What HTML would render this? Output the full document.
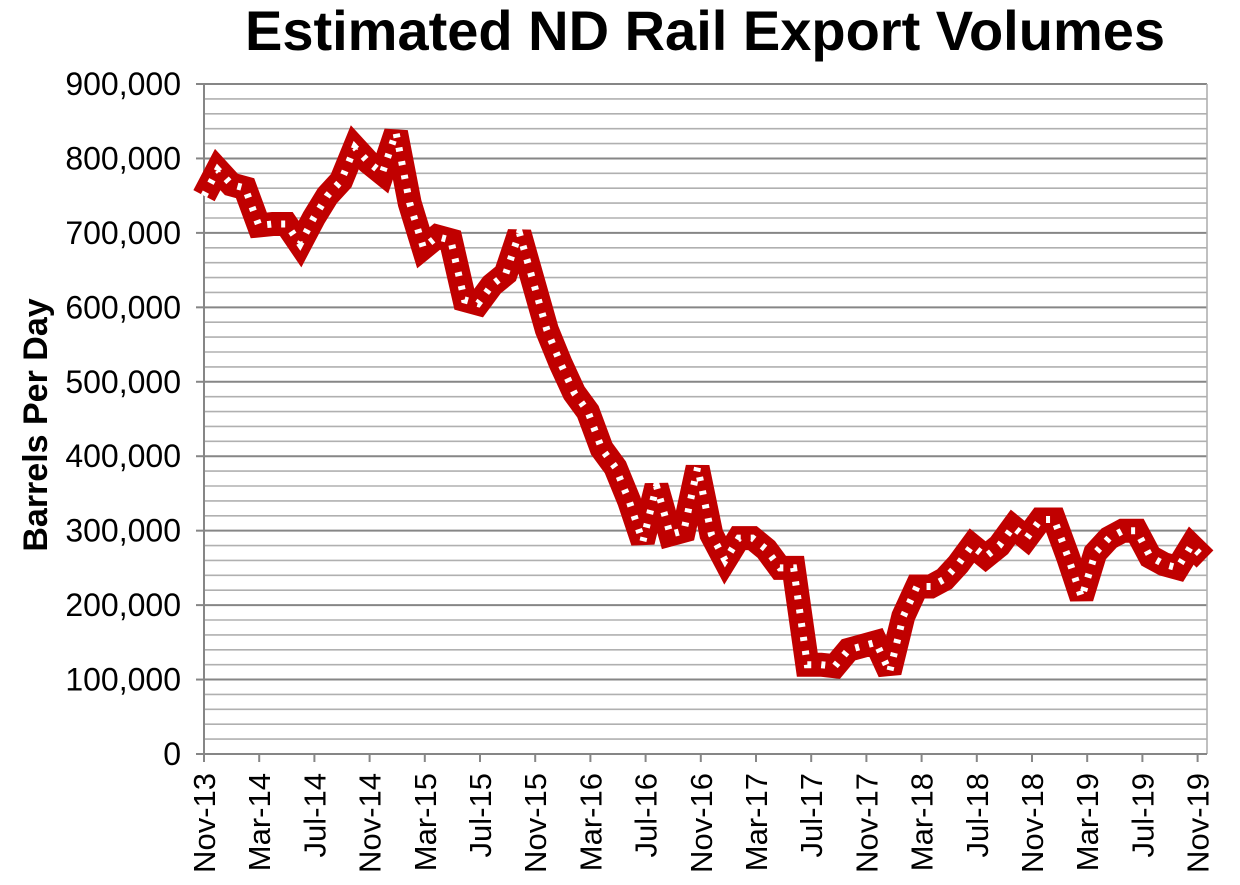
<!DOCTYPE html>
<html><head><meta charset="utf-8"><style>
html,body{margin:0;padding:0;background:#fff;}
svg{display:block;font-family:"Liberation Sans",Arial,sans-serif;}
</style></head><body>
<svg id="s" width="1240" height="885" viewBox="0 0 1240 885" xmlns="http://www.w3.org/2000/svg">
<text x="705" y="50" text-anchor="middle" font-size="56" font-weight="bold">Estimated ND Rail Export Volumes</text>
<text transform="translate(47,425) rotate(-90)" text-anchor="middle" font-size="34" font-weight="bold">Barrels Per Day</text>
<g id="grid"></g>
<g id="lab" font-size="32" text-anchor="end"></g>
<g id="xl" font-size="31" text-anchor="end"></g>
<g id="ser"></g>
</svg>
<script>
var NS="http://www.w3.org/2000/svg";
function el(t,a,p,txt){var e=document.createElementNS(NS,t);for(var k in a)e.setAttribute(k,a[k]);if(txt!=null)e.textContent=txt;document.getElementById(p).appendChild(e);return e;}
var L=204,R=1207,T=84,B=754;
function Y(v){return B-v/900000*(B-T);}
for(var i=1;i<=45;i++){var v=i*20000,y=Y(v),maj=(i%5==0);
 el("line",{x1:L,x2:R,y1:y,y2:y,stroke:maj?"#868686":"#b0b0b0","stroke-width":maj?2:1.6},"grid");}
el("line",{x1:R,x2:R,y1:T,y2:B,stroke:"#b0b0b0","stroke-width":1.6},"grid");
el("line",{x1:L,x2:L,y1:T,y2:B+8,stroke:"#868686","stroke-width":2},"grid");
el("line",{x1:L-8,x2:R,y1:B,y2:B,stroke:"#868686","stroke-width":2},"grid");
for(var i=0;i<=9;i++){var y=Y(i*100000);
 el("line",{x1:L-8,x2:L,y1:y,y2:y,stroke:"#868686","stroke-width":2},"grid");
 el("text",{x:181,y:y+11},"lab",i==0?"0":(i*100)+",000");}
var m=["Nov","Mar","Jul"];
for(var i=0;i<=18;i++){var x=L+i*55.2;var yr=13+Math.floor((i+2)/3);
 el("line",{x1:x,x2:x,y1:B,y2:B+8,stroke:"#868686","stroke-width":2},"grid");
 el("text",{transform:"translate("+(x+11)+",773) rotate(-90)"},"xl",m[i%3]+"-"+yr);}
var d=[750,785,765,760,710,712,712,685,720,750,770,815,795,780,835,740,680,695,690,610,605,630,645,700,635,570,525,485,460,410,385,340,285,360,295,300,385,295,260,290,290,275,250,250,120,120,118,140,145,150,110,185,225,225,235,255,280,265,280,305,290,315,315,265,210,270,290,300,300,265,255,250,280,262];
var n=d.length,step=(1205-L)/(n-1),pts=[];
for(var i=0;i<n;i++)pts.push((L+i*step).toFixed(1)+","+Y(d[i]*1000).toFixed(1));
var p=pts.join(" ");
el("polyline",{points:p,fill:"none",stroke:"#c00000","stroke-width":24,"stroke-linejoin":"miter","stroke-miterlimit":3},"ser");
el("polyline",{points:p,fill:"none",stroke:"#ffffff","stroke-width":7,"stroke-dasharray":"4 10","stroke-linejoin":"miter"},"ser");
</script>
</body></html>
